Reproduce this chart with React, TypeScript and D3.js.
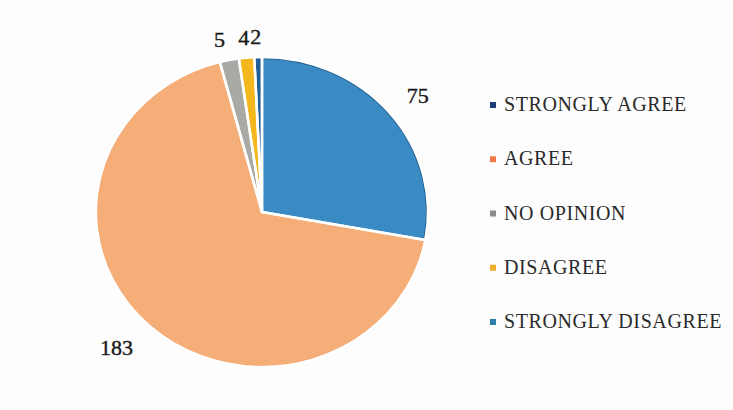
import React, { useEffect, useRef } from "react";
import * as d3 from "d3";

const categories = ["STRONGLY AGREE", "AGREE", "NO OPINION", "DISAGREE", "STRONGLY DISAGREE"];
const values = [75, 183, 5, 4, 2];
const sliceColors = ["#3a8bc4", "#f6ae78", "#a8aaa6", "#f4b81e", "#1f5f96"];
const sliceBorders = ["#1d5a8a", "#f09a5e", "#9a9c98", "#e9a812", "#1a4f80"];
const legendColors = ["#1c3c78", "#f07a4a", "#8c8c8c", "#efb030", "#2b7fa8"];
// label nudges for readability (dx, dy) relative to outside position
const labelNudge: [number, number][] = [
  [20, -8],
  [-18, 10],
  [-6, 0],
  [-1, 0],
  [-2, 0],
];

const W = 733;
const H = 410;
const cx = 262;
const cy = 212;
const R = 155;
const sx = 166 / 155;
const SERIF = "'Liberation Serif'";

export default function App() {
  const ref = useRef<SVGSVGElement | null>(null);

  useEffect(() => {
    if (!ref.current) return;
    d3.select(ref.current)
      .selectAll<SVGTextElement, unknown>("text")
      .each(function () {
        this.style.setProperty("font-family", SERIF, "important");
        this.setAttribute("font-family", "Liberation Serif");
      });
  }, []);

  const pie = d3
    .pie<number>()
    .value((d) => d)
    .sort(null)
    .startAngle(0)
    .endAngle(2 * Math.PI);
  const arcs = pie(values);
  const arc = d3.arc<d3.PieArcDatum<number>>().innerRadius(0).outerRadius(R);
  const arcIn = d3.arc<d3.PieArcDatum<number>>().innerRadius(0).outerRadius(R - 1);

  const labelPos = (a: d3.PieArcDatum<number>, i: number) => {
    const mid = (a.startAngle + a.endAngle) / 2;
    let rr = R + 18;
    if (i === 0) rr = R + 10;
    if (i === 1) rr = R + 20;
    const x = cx + Math.sin(mid) * rr * sx + labelNudge[i][0];
    const y = cy - Math.cos(mid) * rr + labelNudge[i][1];
    return [x, y];
  };

  const legendY = d3.scalePoint<string>().domain(categories).range([111, 328]);

  return (
    <svg
      ref={ref}
      width={W}
      height={H}
      fontFamily="Liberation Serif"
      style={{ position: "absolute", left: 0, top: 0, background: "#fdfdfd" }}
    >
      <rect width={W} height={H} fill="#fdfdfd" />
      <g transform={`translate(${cx},${cy}) scale(${sx},1)`}>
        {arcs.map((a, i) => (
          <path key={"f" + i} d={arc(a) || ""} fill={sliceColors[i]} />
        ))}
        {arcs.map((a, i) => (
          <path
            key={"b" + i}
            d={arcIn(a) || ""}
            fill="none"
            stroke={sliceBorders[i]}
            strokeWidth={i === 0 ? 2 : 1}
            vectorEffect="non-scaling-stroke"
          />
        ))}
        {arcs.map((a, i) => (
          <path
            key={"w" + i}
            d={arc(a) || ""}
            fill="none"
            stroke="#ffffff"
            strokeWidth={2.5}
            strokeLinejoin="round"
            vectorEffect="non-scaling-stroke"
          />
        ))}
      </g>
      {arcs.map((a, i) => {
        const [x, y] = labelPos(a, i);
        return (
          <text
            key={"l" + i}
            x={x}
            y={y}
            textAnchor="middle"
            dominantBaseline="middle"
            fontSize={22}
            fill="#1a1a1a"
            stroke="#1a1a1a"
            strokeWidth={0.4}
          >
            {values[i]}
          </text>
        );
      })}
      {categories.map((c, i) => {
        const y = legendY(c) as number;
        return (
          <g key={"lg" + i}>
            <rect x={490} y={y - 9} width={6} height={6} fill={legendColors[i]} />
            <text x={504} y={y} fontSize={20} letterSpacing={0.6} fill="#2a2a2a">
              {c}
            </text>
          </g>
        );
      })}
    </svg>
  );
}
